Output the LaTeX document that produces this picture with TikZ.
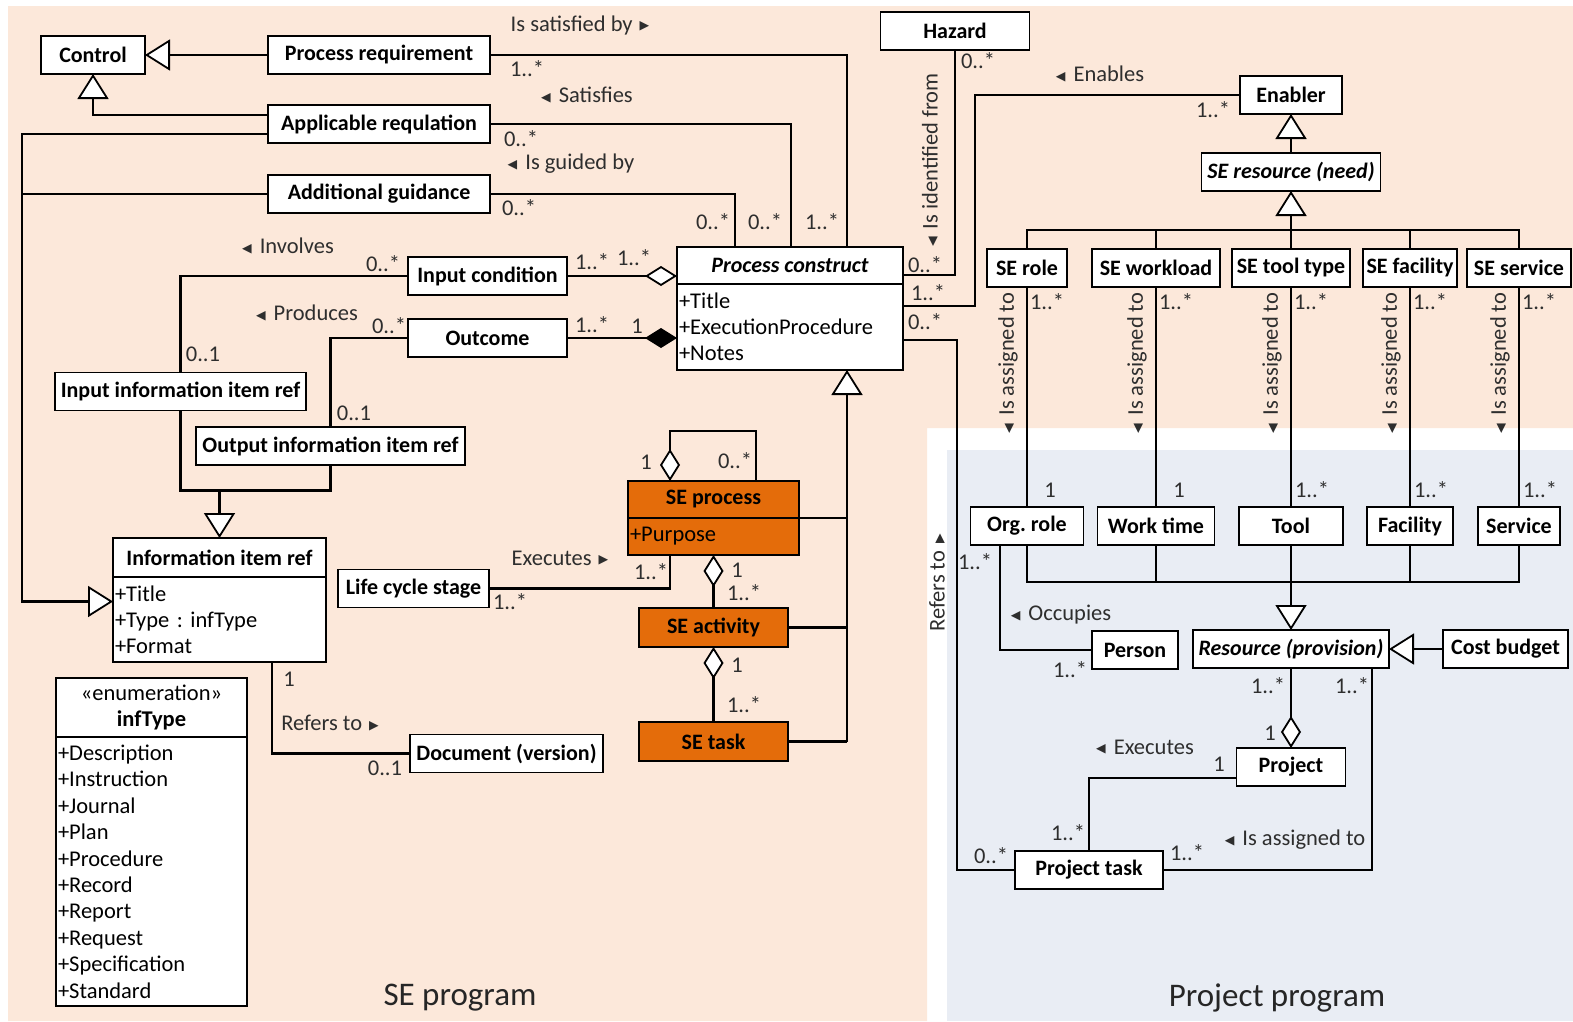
\documentclass[tikz,border=0pt]{standalone}
\usepackage{fontspec}
\setmainfont{Carlito}
\newfontfamily\symf{DejaVu Sans}
\usetikzlibrary{arrows.meta,calc}

\definecolor{peach}{HTML}{FCE8DA}
\definecolor{paleblue}{HTML}{E9EDF4}
\definecolor{seorange}{HTML}{E46C0A}
\definecolor{inkgray}{HTML}{2E2E2E}

\newcommand\bxfont{\fontsize{22}{24}\selectfont\bfseries}
\newcommand\lbfont{\fontsize{22.5}{24}\selectfont}
\newcommand\atfont{\fontsize{22.5}{26}\selectfont}
\newcommand\trileft{{\symf\fontsize{12.5}{12.5}\selectfont\raisebox{1.2pt}{◀}}\hspace{8pt}}
\newcommand\triright{\hspace{7pt}{\symf\fontsize{12.5}{12.5}\selectfont\raisebox{1.2pt}{▶}}}

\begin{document}
\frenchspacing
\begin{tikzpicture}[x=1pt,y=-1pt,
  cls/.style={draw=black, fill=white, line width=1.8pt, inner sep=2pt, outer sep=0pt,
              minimum height=38pt, font=\bxfont, text=black},
  attrs/.style={draw=black, fill=white, line width=1.8pt, inner xsep=2pt, inner ysep=0pt,
              outer sep=0pt, font=\atfont, align=left, text=black},
  lb/.style={font=\lbfont, text=inkgray, inner sep=0pt},
  ttl/.style={font=\fontsize{33}{36}\selectfont, text=black!85, inner sep=0pt},
  wire/.style={line width=2.4pt},
  gen/.style={-{Triangle[length=25pt,width=31pt,fill=white,line width=1.8pt]}},
  agg/.style={-{Diamond[length=32pt,width=20pt,fill=white,line width=1.8pt]}},
  comp/.style={-{Diamond[length=32pt,width=20pt,fill=black,line width=1.8pt]}}]

\useasboundingbox (0,0) rectangle (1573,1021);

% program areas
\fill[white] (0,0) rectangle (1573,1021);
\fill[peach] (8,6) -- (1573,6) -- (1573,428) -- (927,428) -- (927,1021) -- (8,1021) -- cycle;
\fill[paleblue] (947,450) rectangle (1573,1021);

% ---------- classes: SE program ----------
\node[cls, minimum width=104pt] (ctrl) at (93,55) {Control};
\node[cls, minimum width=222pt] (preq) at (379,55) {Process requirement};
\node[cls, minimum width=222pt] (areg) at (379,124) {Applicable requlation};
\node[cls, minimum width=222pt] (aguid) at (379,194) {Additional guidance};

\node[cls, minimum width=226pt, minimum height=37pt, font=\bxfont\itshape] (pc) at (790,265.5) {Process construct};
\node[attrs, text width=222pt, minimum height=86pt, anchor=north] (pcb) at (pc.south)
  {+Title\\+ExecutionProcedure\\+Notes};

\node[cls, minimum width=159pt] (ic) at (487.5,276) {Input condition};
\node[cls, minimum width=159pt] (oc) at (487.5,338) {Outcome};
\node[cls, minimum width=251pt] (iin) at (180.5,391.5) {Input information item ref};
\node[cls, minimum width=269pt] (oin) at (330.5,446) {Output information item ref};

\node[cls, minimum width=213pt, minimum height=39pt] (iir) at (219.5,557.5) {Information item ref};
\node[attrs, text width=209pt, minimum height=85pt, anchor=north] (iirb) at (iir.south)
  {+Title\\+Type : infType\\+Format};

\node[cls, minimum width=151pt] (lcs) at (413.5,588.5) {Life cycle stage};
\node[cls, minimum width=193pt] (doc) at (506.5,753.5) {Document (version)};

\node[cls, fill=seorange, minimum width=171pt, minimum height=37pt] (sep) at (713.5,499.5) {SE process};
\node[attrs, fill=seorange, text width=167pt, minimum height=37pt, anchor=north] (sepb) at (sep.south) {+Purpose};
\node[cls, fill=seorange, minimum width=149pt, minimum height=39pt] (sea) at (713.5,627.5) {SE activity};
\node[cls, fill=seorange, minimum width=149pt, minimum height=39pt] (set) at (713.5,741.5) {SE task};

\node[cls, minimum width=191pt, minimum height=59pt, align=center, font=\atfont] (ith) at (151.5,707.5)
  {«enumeration»\\\textbf{infType}};
\node[attrs, text width=187pt, minimum height=269pt, anchor=north, font=\fontsize{22.5}{26.4}\selectfont] (itb) at (ith.south)
  {+Description\\+Instruction\\+Journal\\+Plan\\+Procedure\\+Record\\+Report\\+Request\\+Specification\\+Standard};

% ---------- classes: resources ----------
\node[cls, minimum width=149pt] (hz) at (955,31) {Hazard};
\node[cls, minimum width=102pt] (en) at (1291,95) {Enabler};
\node[cls, minimum width=179pt, font=\bxfont\itshape] (ser) at (1291,172) {SE resource (need)};

\node[cls, minimum width=80pt]  (rse1) at (1027,268) {SE role};
\node[cls, minimum width=128pt] (rse2) at (1156,268) {SE workload};
\node[cls, minimum width=118pt] (rse3) at (1291,268) {SE tool type};
\node[cls, minimum width=94pt]  (rse4) at (1410,268) {SE facility};
\node[cls, minimum width=104pt] (rse5) at (1519,268) {SE service};

\node[cls, minimum width=113pt] (prv1) at (1027,526) {Org. role};
\node[cls, minimum width=117pt] (prv2) at (1156,526) {Work time};
\node[cls, minimum width=104pt] (prv3) at (1291,526) {Tool};
\node[cls, minimum width=86pt]  (prv4) at (1410,526) {Facility};
\node[cls, minimum width=82pt]  (prv5) at (1519,526) {Service};

\node[cls, minimum width=196pt, font=\bxfont\itshape] (rp) at (1291,649) {Resource (provision)};
\node[cls, minimum width=125pt] (cb) at (1505.5,649) {Cost budget};
\node[cls, minimum width=86pt] (per) at (1135,650) {Person};
\node[cls, minimum width=109pt] (proj) at (1291,767) {Project};
\node[cls, minimum width=148pt] (ptask) at (1089,870) {Project task};

% ---------- connectors ----------
% controls and information items
\draw[wire,gen] (preq.west) -- (ctrl.east);
\draw[wire,gen] ($(areg.west)+(0,-9)$) -| (ctrl.south);
\draw[wire,gen] ($(areg.west)+(0,10)$) -- ++(-246,0) |- ($(iirb.west)+(0,-18)$);
\draw[wire] (aguid.west) -- ++(-246,0);

\draw[wire] (preq.east) -| ($(pc.north)+(57,0)$);
\draw[wire] (areg.east) -| ($(pc.north)+(1,0)$);
\draw[wire] (aguid.east) -| ($(pc.north)+(-55,0)$);

\draw[wire] (hz.south) |- ($(pc.east)+(0,9.5)$);
\draw[wire] (en.west) -- ++(-265,0) |- ($(pcb.east)+(0,-21)$);
\draw[wire] ($(pcb.east)+(0,13)$) -- ++(54,0) |- (ptask.west);

\draw[wire,agg] (ic.east) -- (ic.east -| pc.west);
\draw[wire,comp] (oc.east) -- (oc.east -| pc.west);
\draw[wire] (ic.west) -| (iin.north);
\draw[wire] (oc.west) -| (oin.north);
\draw[wire] (iin.south) -- ++(0,80) -| (oin.south);
\coordinate (ibar) at ($(iir.north)+(0,-48)$);
\draw[wire,gen] (ibar) -- (iir.north);

\draw[wire] (lcs.east) -| ($(sepb.south)+(-43.5,0)$);
\draw[wire] ($(iirb.south)+(52.5,0)$) |- (doc.west);

% process hierarchy
\draw[wire,agg] ($(sep.north)+(42.5,0)$) -- ++(0,-50) -| ($(sep.north)+(-43.5,0)$);
\draw[wire,agg] (sea.north) -- (sepb.south);
\draw[wire,agg] (set.north) -- (sea.south);
\coordinate (gv) at ($(pcb.south)+(57,0)$);
\draw[wire,gen] (set.east -| gv) -- (gv);
\draw[wire] (sep.south east) -- (sep.south east -| gv);
\draw[wire] (sea.east) -- (sea.east -| gv);
\draw[wire] (set.east) -- (set.east -| gv);

% resources
\draw[wire,gen] (ser.north) -- (en.south);
\coordinate (sbar) at ($(ser.south)+(0,39)$);
\draw[wire,gen] (sbar) -- (ser.south);
\coordinate (pbar) at ($(rp.north)+(0,-48)$);
\draw[wire,gen] (pbar) -- (rp.north);
\foreach \n in {1,...,5} {
  \draw[wire] (rse\n.north) |- (sbar);
  \draw[wire] (rse\n.south) -- (prv\n.north);
  \draw[wire] (prv\n.south) |- (pbar);
}
\draw[wire,gen] (cb.west) -- (rp.east);
\draw[wire] ($(prv1.south)+(-27,0)$) |- (per.west);
\draw[wire,agg] (rp.south) -- (proj.north);
\draw[wire] ($(rp.south)+(81,0)$) |- (ptask.east);
\draw[wire] ($(proj.west)+(0,11)$) -| (ptask.north);

% ---------- association labels and multiplicities ----------
\node[lb] (t1) at (580,25) {Is satisfied by\triright};
\node[lb] (t2) at (527,69) {1..*};
\node[lb] (t3) at (587,95) {\trileft Satisfies};
\node[lb] (t4) at (521,139) {0..*};
\node[lb] (t5) at (571,164) {\trileft Is guided by};
\node[lb] (t6) at (519,208) {0..*};
\node[lb] (t7) at (713,222) {0..*};
\node[lb] (t8) at (765,222) {0..*};
\node[lb] (t9) at (822,222) {1..*};
\node[lb, rotate=90] (t10) at (930,160) {\trileft Is identified from};
\node[lb] (t11) at (978,61) {0..*};
\node[lb] (t12) at (1100,74) {\trileft Enables};
\node[lb] (t13) at (1213,110) {1..*};
\node[lb] (t14) at (925,265) {0..*};
\node[lb] (t15) at (928,293) {1..*};
\node[lb] (t16) at (925,322) {0..*};
\node[lb, rotate=90] (t17) at (937,583) {Refers to\triright};
\node[lb] (t18) at (991,856) {0..*};

\node[lb] (u1) at (288,246) {\trileft Involves};
\node[lb] (u2) at (383,264) {0..*};
\node[lb] (u3) at (203,354) {0..1};
\node[lb] (u4) at (307,313) {\trileft Produces};
\node[lb] (u5) at (389,326) {0..*};
\node[lb] (u6) at (354,413) {0..1};
\node[lb] (u7) at (592,262) {1..*};
\node[lb] (u8) at (634,258) {1..*};
\node[lb] (u9) at (592,325) {1..*};
\node[lb] (u10) at (637,326) {1};

\node[lb] (v1) at (646,462) {1};
\node[lb] (v2) at (735,461) {0..*};
\node[lb] (v3) at (560,558) {Executes\triright};
\node[lb] (v4) at (651,572) {1..*};
\node[lb] (v5) at (510,602) {1..*};
\node[lb] (v6) at (737,570) {1};
\node[lb] (v7) at (744,593) {1..*};
\node[lb] (v8) at (737,665) {1};
\node[lb] (v9) at (744,705) {1..*};
\node[lb] (v10) at (289,679) {1};
\node[lb] (v11) at (330,723) {Refers to\triright};
\node[lb] (v12) at (385,768) {0..1};

\node[lb] (w1) at (1047,302) {1..*};
\node[lb] (w2) at (1176,302) {1..*};
\node[lb] (w3) at (1311,302) {1..*};
\node[lb] (w4) at (1430,302) {1..*};
\node[lb] (w5) at (1539,302) {1..*};
\node[lb, rotate=90] (a1) at (1008,363) {\trileft Is assigned to};
\node[lb, rotate=90] (a2) at (1137,363) {\trileft Is assigned to};
\node[lb, rotate=90] (a3) at (1272,363) {\trileft Is assigned to};
\node[lb, rotate=90] (a4) at (1391,363) {\trileft Is assigned to};
\node[lb, rotate=90] (a5) at (1500,363) {\trileft Is assigned to};
\node[lb] (m1) at (1050,490) {1};
\node[lb] (m2) at (1179,490) {1};
\node[lb] (m3) at (1312,490) {1..*};
\node[lb] (m4) at (1431,490) {1..*};
\node[lb] (m5) at (1540,490) {1..*};

\node[lb] (x1) at (975,562) {1..*};
\node[lb] (x2) at (1061,615) {\trileft Occupies};
\node[lb] (x3) at (1070,670) {1..*};
\node[lb] (x4) at (1268,686) {1..*};
\node[lb] (x5) at (1352,686) {1..*};
\node[lb] (x6) at (1270,733) {1};
\node[lb] (x7) at (1145,747) {\trileft Executes};
\node[lb] (x8) at (1219,764) {1};
\node[lb] (x9) at (1068,833) {1..*};
\node[lb] (x10) at (1295,840) {\trileft Is assigned to};
\node[lb] (x11) at (1187,853) {1..*};

% area titles
\node[ttl] (seprog) at (460,998) {SE program};
\node[ttl] (pjprog) at (1277,998) {Project program};
\end{tikzpicture}
\end{document}
